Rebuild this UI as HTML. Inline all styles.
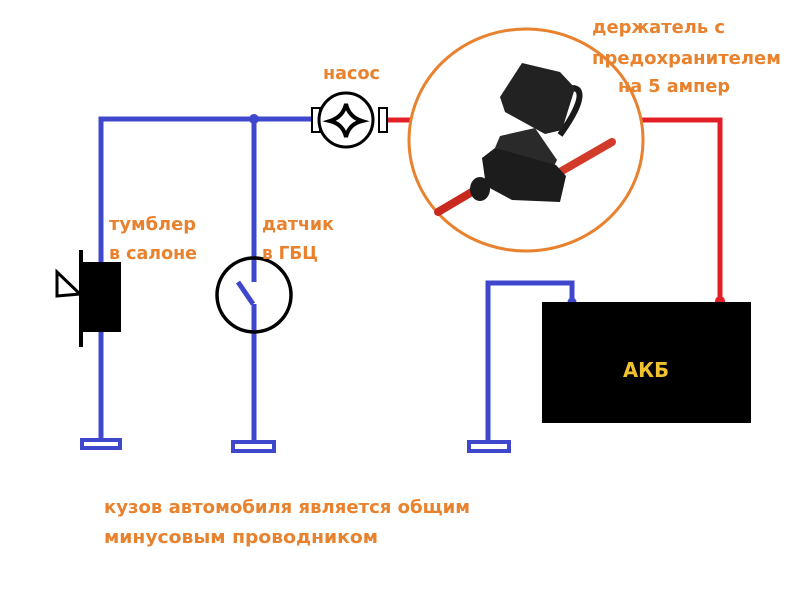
<!DOCTYPE html>
<html><head><meta charset="utf-8"><style>
html,body{margin:0;padding:0;background:#fff;width:800px;height:600px;overflow:hidden}
svg{display:block}
text{font-family:"DejaVu Sans","Liberation Sans",sans-serif;font-weight:bold;font-size:18px;fill:#e8822e}
</style></head><body>
<svg width="800" height="600" viewBox="0 0 800 600" xmlns="http://www.w3.org/2000/svg">
<g fill="none" stroke="#3f48cc" stroke-width="5">
<polyline points="101,262 101,119 312,119"/>
<line x1="101" y1="332" x2="101" y2="440"/>
<line x1="254" y1="119" x2="254" y2="282"/>
<line x1="254" y1="304" x2="254" y2="442"/>
<line x1="238" y1="282" x2="253" y2="304"/>
<polyline points="488,442 488,283 572,283 572,300"/>
<rect x="82" y="440" width="38" height="8" stroke-width="4"/>
<rect x="233" y="442" width="41" height="9" stroke-width="4"/>
<rect x="469" y="442" width="40" height="9" stroke-width="4"/>
</g>
<circle cx="254" cy="119" r="5" fill="#3f48cc"/>
<circle cx="572" cy="302" r="4.5" fill="#3f48cc"/>
<g fill="none" stroke="#e21f26" stroke-width="5">
<line x1="387" y1="120" x2="410" y2="120"/>
<polyline points="621,120 720,120 720,300"/>
</g>
<circle cx="720" cy="301" r="5" fill="#e21f26"/>
<rect x="312" y="108" width="8" height="24" fill="#fff" stroke="#000" stroke-width="2"/>
<rect x="379" y="108" width="8" height="24" fill="#fff" stroke="#000" stroke-width="2"/>
<circle cx="346" cy="120" r="27" fill="#fff" stroke="#000" stroke-width="3"/>
<path d="M346,104 Q349,117 362,121 Q349,124 346,137 Q343,124 330,121 Q343,117 346,104 Z" fill="#fff" stroke="#000" stroke-width="4"/>
<rect x="80" y="262" width="41" height="70" fill="#000"/>
<line x1="81" y1="250" x2="81" y2="347" stroke="#000" stroke-width="4"/>
<polygon points="57,272 80,294 57,296" fill="#fff" stroke="#000" stroke-width="3"/>
<circle cx="254" cy="295" r="37" fill="none" stroke="#000" stroke-width="3.5"/>
<ellipse cx="526" cy="140" rx="117" ry="111" fill="#fff" stroke="#e8822e" stroke-width="3"/>
<line x1="438" y1="212" x2="482" y2="186" stroke="#c9281f" stroke-width="8" stroke-linecap="round"/>
<line x1="560" y1="172" x2="612" y2="142" stroke="#d23a2a" stroke-width="8" stroke-linecap="round"/>
<path d="M553,125 Q565,80 578,90 Q585,100 560,135" fill="none" stroke="#1a1a1a" stroke-width="6"/>
<polygon points="500,97 522,63 560,72 575,88 562,130 545,134 505,112" fill="#222"/>
<polygon points="495,148 500,136 535,128 557,160 552,170" fill="#2a2a2a"/>
<polygon points="482,158 495,148 556,165 566,176 560,202 512,200 486,186" fill="#1c1c1c"/>
<ellipse cx="480" cy="189" rx="10" ry="12" fill="#1c1c1c"/>
<rect x="542" y="302" width="209" height="121" fill="#000"/>
<text x="623" y="377" textLength="46" lengthAdjust="spacingAndGlyphs" style="fill:#f2c12e;font-size:20px">АКБ</text>
<text x="323" y="79" textLength="57" lengthAdjust="spacingAndGlyphs">насос</text>
<text x="592" y="33" textLength="133" lengthAdjust="spacingAndGlyphs">держатель с</text>
<text x="592" y="64" textLength="189" lengthAdjust="spacingAndGlyphs">предохранителем</text>
<text x="618" y="92" textLength="112" lengthAdjust="spacingAndGlyphs">на 5 ампер</text>
<text x="109" y="230" textLength="87" lengthAdjust="spacingAndGlyphs">тумблер</text>
<text x="109" y="259" textLength="88" lengthAdjust="spacingAndGlyphs">в салоне</text>
<text x="262" y="230" textLength="72" lengthAdjust="spacingAndGlyphs">датчик</text>
<text x="262" y="259" textLength="56" lengthAdjust="spacingAndGlyphs">в ГБЦ</text>
<text x="104" y="513" textLength="366" lengthAdjust="spacingAndGlyphs">кузов автомобиля является общим</text>
<text x="104" y="543" textLength="274" lengthAdjust="spacingAndGlyphs">минусовым проводником</text>
</svg>
</body></html>
